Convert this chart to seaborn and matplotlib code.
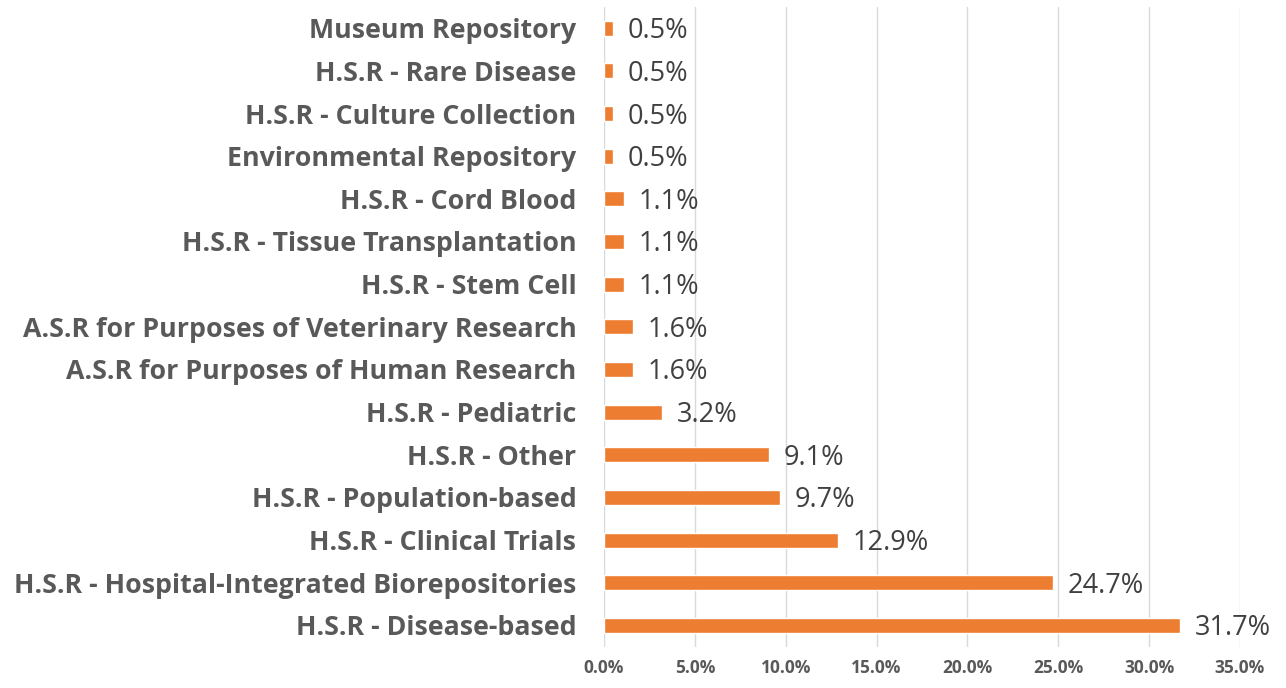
import pandas as pd
import matplotlib.pyplot as plt
import seaborn as sns
from matplotlib.ticker import PercentFormatter

# valeurs (du haut vers le bas)
categories = ["Museum Repository",
              "H.S.R - Rare Disease",
              "H.S.R - Culture Collection",
              "Environmental Repository",
              "H.S.R - Cord Blood",
              "H.S.R - Tissue Transplantation",
              "H.S.R - Stem Cell",
              "A.S.R for Purposes of Veterinary Research",
              "A.S.R for Purposes of Human Research",
              "H.S.R - Pediatric",
              "H.S.R - Other",
              "H.S.R - Population-based",
              "H.S.R - Clinical Trials",
              "H.S.R - Hospital-Integrated Biorepositories",
              "H.S.R - Disease-based"]
pourcentages = [0.5, 0.5, 0.5, 0.5, 1.1, 1.1, 1.1, 1.6, 1.6, 3.2, 9.1, 9.7, 12.9, 24.7, 31.7]

df = pd.DataFrame({'cat': categories, 'pct': pourcentages})

sns.set_style("white")
plt.rcParams['font.family'] = ['Open Sans', 'DejaVu Sans']

fig = plt.figure(figsize=(12.86, 6.88), dpi=100)
ax = fig.add_axes([0.4697, 0.06, 0.4945, 0.93])

sns.barplot(data=df, x='pct', y='cat', color='#ED7D31', width=0.35, ax=ax, saturation=1)

for i, v in enumerate(pourcentages):
    ax.text(v + 0.8, i + 0.07, f"{v:.1f}%", va='center', ha='left', fontsize=19.5, color='#404040')

ax.set_xlim(0, 35)
ax.set_xticks(range(0, 36, 5))
ax.xaxis.set_major_formatter(PercentFormatter(decimals=1))
ax.grid(axis='x', color='#D9D9D9', linewidth=1)
ax.set_axisbelow(True)
sns.despine(ax=ax, left=True, bottom=True)
ax.set_xlabel('')
ax.set_ylabel('')
ax.tick_params(axis='x', length=0, pad=9, labelsize=12.5, labelcolor='#595959')
ax.tick_params(axis='y', length=0, pad=20, labelsize=19.3, labelcolor='#595959')
for lbl in ax.get_xticklabels() + ax.get_yticklabels():
    lbl.set_fontweight('bold')

plt.savefig('out.png', dpi=100)
